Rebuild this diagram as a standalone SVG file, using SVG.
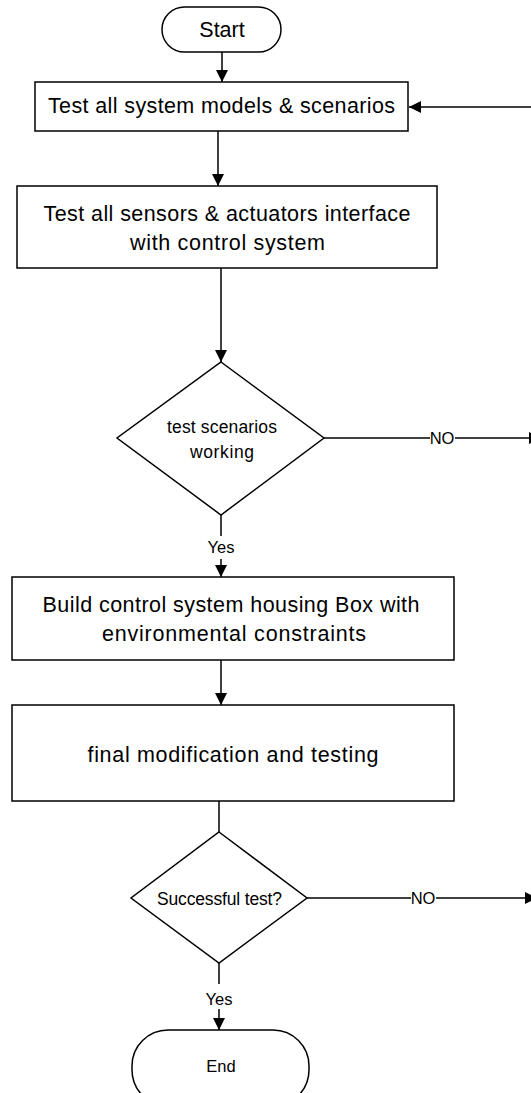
<svg xmlns="http://www.w3.org/2000/svg" width="531" height="1093" viewBox="0 0 531 1093">
<style>
.shape{fill:#fff;stroke:#000;stroke-width:1.5}
.conn{fill:none;stroke:#000;stroke-width:1.5}
text{font-family:"Liberation Sans",Arial,sans-serif;fill:#000;text-anchor:middle}
.big{font-size:21.5px}
.mid{font-size:17.5px}
.lbl{font-size:16.5px}
</style>
<defs>
<marker id="arr" markerUnits="userSpaceOnUse" markerWidth="12" markerHeight="12" refX="12" refY="6" orient="auto">
<path d="M0,0 L12,6 L0,12 z" fill="#000"/>
</marker>
</defs>
<rect width="531" height="1093" fill="#fff"/>
<g id="connectors">
<path class="conn" d="M222,52 V82" marker-end="url(#arr)"/>
<path class="conn" d="M218,131 V186" marker-end="url(#arr)"/>
<path class="conn" d="M221,268 V362" marker-end="url(#arr)"/>
<path class="conn" d="M221,515 V536"/>
<path class="conn" d="M221,559 V577" marker-end="url(#arr)"/>
<path class="conn" d="M324,438 H541" marker-end="url(#arr)"/>
<path class="conn" d="M221,660 V705" marker-end="url(#arr)"/>
<path class="conn" d="M219,801 V832"/>
<path class="conn" d="M307,898 H537" marker-end="url(#arr)"/>
<path class="conn" d="M219,963 V984"/>
<path class="conn" d="M219,1009 V1030" marker-end="url(#arr)"/>
<path class="conn" d="M531,107 H409" marker-end="url(#arr)"/>
<rect x="430" y="429" width="25" height="18" fill="#fff"/>
<text class="lbl" x="442" y="444">NO</text>
<rect x="411" y="889" width="25" height="18" fill="#fff"/>
<text class="lbl" x="423" y="904">NO</text>
<text class="lbl" x="221" y="553">Yes</text>
<text class="lbl" x="219" y="1005">Yes</text>
</g>
<g id="start">
<rect class="shape" x="162" y="7" width="119" height="45" rx="22.5"/>
<text class="big" x="222" y="37">Start</text>
</g>
<g id="box1">
<rect class="shape" x="35" y="82" width="373" height="49"/>
<text class="big" x="221.5" y="113" textLength="347" lengthAdjust="spacing">Test all system models &amp; scenarios</text>
</g>
<g id="box2">
<rect class="shape" x="17" y="186" width="420" height="82"/>
<text class="big" x="227" y="221" textLength="367" lengthAdjust="spacing">Test all sensors &amp; actuators interface</text>
<text class="big" x="227.5" y="250" textLength="195" lengthAdjust="spacing">with control system</text>
</g>
<g id="decision1">
<path class="shape" d="M221,362 L324,438 L221,515 L117,438 Z"/>
<text class="mid" x="222" y="433" textLength="110" lengthAdjust="spacing">test scenarios</text>
<text class="mid" x="222" y="458" textLength="64" lengthAdjust="spacing">working</text>
</g>
<g id="box3">
<rect class="shape" x="12" y="577" width="442" height="83"/>
<text class="big" x="231" y="612" textLength="377" lengthAdjust="spacing">Build control system housing Box with</text>
<text class="big" x="234" y="641" textLength="264" lengthAdjust="spacing">environmental constraints</text>
</g>
<g id="box4">
<rect class="shape" x="12" y="705" width="442" height="96"/>
<text class="big" x="233" y="762" textLength="291" lengthAdjust="spacing">final modification and testing</text>
</g>
<g id="decision2">
<path class="shape" d="M219,832 L307,898 L219,963 L131,898 Z"/>
<text class="mid" x="219.5" y="905" textLength="125" lengthAdjust="spacing">Successful test?</text>
</g>
<g id="end">
<rect class="shape" x="132" y="1030" width="177" height="76" rx="36"/>
<text class="lbl" x="221" y="1072">End</text>
</g>
</svg>
